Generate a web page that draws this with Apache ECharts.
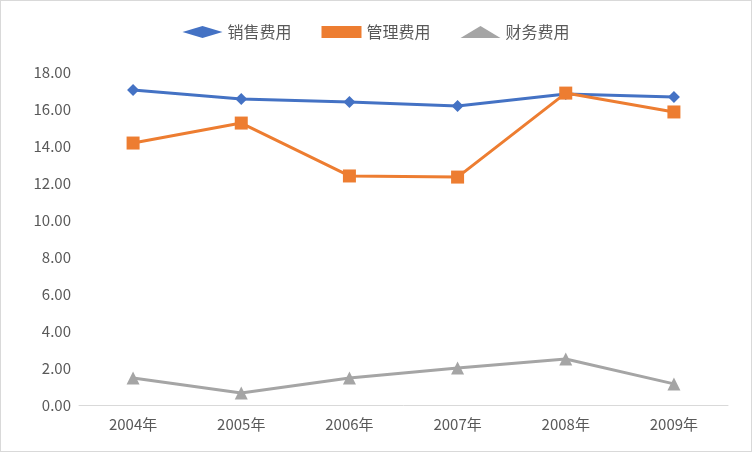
<!DOCTYPE html>
<html><head><meta charset="utf-8">
<script src="https://cdn.jsdelivr.net/npm/echarts@6/dist/echarts.min.js"></script>
<style>html,body{margin:0;padding:0;background:#fff}#c{width:750px;height:450px;border:1px solid #d9d9d9}</style>
</head><body><div id="c"></div>
<script>
var categories = ['2004年', '2005年', '2006年', '2007年', '2008年', '2009年'];
var salesCost = [17.03, 16.54, 16.38, 16.16, 16.81, 16.65];
var adminCost = [14.16, 15.24, 12.38, 12.32, 16.86, 15.84];
var financeCost = [1.46, 0.65, 1.46, 2.0, 2.49, 1.14];

var chart = echarts.init(document.getElementById('c'));
var font = 'Microsoft YaHei, "Noto Sans CJK SC", sans-serif';
function line(name, data, color, symbol, size) {
	return {
		name: name, type: 'line', data: data, symbol: symbol, symbolSize: size,
		lineStyle: {color: color, width: 3}, itemStyle: {color: color}
	};
}
chart.setOption({
	animation: false,
	textStyle: {fontFamily: font},
	legend: {
		top: 18, itemGap: 30, itemWidth: 40, itemHeight: 12,
		textStyle: {fontSize: 16, color: '#595959'},
		data: [
			{name: '销售费用', icon: 'diamond'},
			{name: '管理费用', icon: 'rect'},
			{name: '财务费用', icon: 'triangle'}
		]
	},
	grid: {left: 78, right: 23, top: 71, bottom: 46},
	xAxis: {
		type: 'category', data: categories,
		axisLine: {lineStyle: {color: '#d9d9d9'}},
		axisTick: {show: false},
		axisLabel: {fontSize: 15, color: '#595959', margin: 12}
	},
	yAxis: {
		type: 'value', min: 0, max: 18, interval: 2,
		axisLine: {show: false}, axisTick: {show: false},
		splitLine: {show: false},
		axisLabel: {fontSize: 15, color: '#595959', formatter: function (v) { return v.toFixed(2); }}
	},
	series: [
		line('销售费用', salesCost, '#4472c4', 'diamond', 12),
		line('管理费用', adminCost, '#ed7d31', 'rect', 13),
		line('财务费用', financeCost, '#a5a5a5', 'triangle', 13)
	]
});
</script></body></html>
